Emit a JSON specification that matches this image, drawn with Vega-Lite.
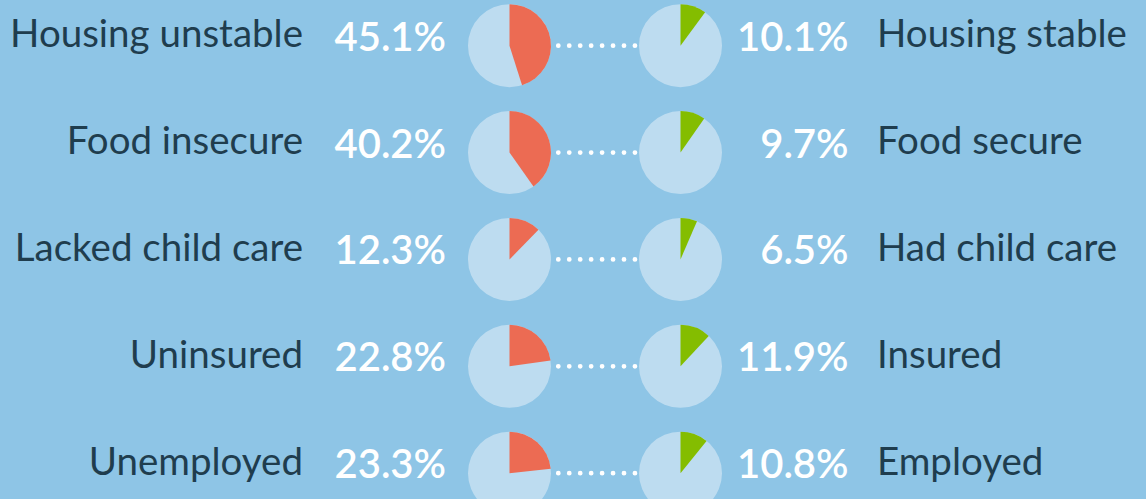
{
  "$schema": "https://vega.github.io/schema/vega-lite/v6.json",
  "width": 1146,
  "height": 499,
  "autosize": {"type": "none"},
  "padding": 0,
  "background": "#8ec5e6",
  "config": {"view": {"stroke": null}},
  "data": {
    "values": [
      {"item": "Housing", "side": "Left", "label": "Housing unstable", "pct": 0.451},
      {"item": "Housing", "side": "Right", "label": "Housing stable", "pct": 0.101},
      {"item": "Food", "side": "Left", "label": "Food insecure", "pct": 0.402},
      {"item": "Food", "side": "Right", "label": "Food secure", "pct": 0.097},
      {"item": "Child care", "side": "Left", "label": "Lacked child care", "pct": 0.123},
      {"item": "Child care", "side": "Right", "label": "Had child care", "pct": 0.065},
      {"item": "Insurance", "side": "Left", "label": "Uninsured", "pct": 0.228},
      {"item": "Insurance", "side": "Right", "label": "Insured", "pct": 0.119},
      {"item": "Employment", "side": "Left", "label": "Unemployed", "pct": 0.233},
      {"item": "Employment", "side": "Right", "label": "Employed", "pct": 0.108}
    ]
  },
  "encoding": {
    "y": {
      "field": "item",
      "type": "nominal",
      "sort": null,
      "axis": null,
      "scale": {"type": "point", "domain": ["Housing", "Food", "Child care", "Insurance", "Employment"], "range": [45.7, 473.2], "padding": 0}
    }
  },
  "layer": [
    {
      "transform": [{"filter": "datum.side === 'Left'"}],
      "mark": {"type": "rule", "color": "#ffffff", "strokeWidth": 4.8, "strokeCap": "round", "strokeDash": [0, 10.95], "strokeDashOffset": 5.95},
      "encoding": {
        "x": {"datum": "Left", "type": "nominal", "axis": null, "scale": {"type": "point", "domain": ["Left", "Right"], "range": [509.5, 680.5], "padding": 0}},
        "x2": {"datum": "Right"}
      }
    },
    {
      "mark": {"type": "arc", "theta": 0, "theta2": 6.2832, "radius": 41.5, "color": "#bddcf0"},
      "encoding": {
        "x": {"field": "side", "type": "nominal", "axis": null}
      }
    },
    {
      "mark": {"type": "arc", "radius": 41.5},
      "encoding": {
        "x": {"field": "side", "type": "nominal", "axis": null},
        "theta": {"field": "pct", "type": "quantitative", "stack": null, "scale": {"domain": [0, 1], "range": [0, 6.283185307]}},
        "theta2": {"datum": 0},
        "color": {"field": "side", "type": "nominal", "legend": null, "scale": {"domain": ["Left", "Right"], "range": ["#ec6b53", "#84bd00"]}}
      }
    },
    {
      "transform": [{"filter": "datum.side === 'Left'"}],
      "mark": {"type": "text", "align": "right", "baseline": "alphabetic", "dx": -206.5, "dy": 1.5, "font": "Lato", "fontSize": 38.5, "color": "#1f3d4e"},
      "encoding": {
        "x": {"field": "side", "type": "nominal", "axis": null},
        "text": {"field": "label"}
      }
    },
    {
      "transform": [{"filter": "datum.side === 'Left'"}],
      "mark": {"type": "text", "align": "right", "baseline": "alphabetic", "dx": -63.5, "dy": 5, "font": "Lato", "fontWeight": 600, "fontSize": 40, "color": "#ffffff"},
      "encoding": {
        "x": {"field": "side", "type": "nominal", "axis": null},
        "text": {"field": "pct", "type": "quantitative", "format": ".1%"}
      }
    },
    {
      "transform": [{"filter": "datum.side === 'Right'"}],
      "mark": {"type": "text", "align": "right", "baseline": "alphabetic", "dx": 168, "dy": 5, "font": "Lato", "fontWeight": 600, "fontSize": 40, "color": "#ffffff"},
      "encoding": {
        "x": {"field": "side", "type": "nominal", "axis": null},
        "text": {"field": "pct", "type": "quantitative", "format": ".1%"}
      }
    },
    {
      "transform": [{"filter": "datum.side === 'Right'"}],
      "mark": {"type": "text", "align": "left", "baseline": "alphabetic", "dx": 196.5, "dy": 1.5, "font": "Lato", "fontSize": 38.5, "color": "#1f3d4e"},
      "encoding": {
        "x": {"field": "side", "type": "nominal", "axis": null},
        "text": {"field": "label"}
      }
    }
  ]
}
